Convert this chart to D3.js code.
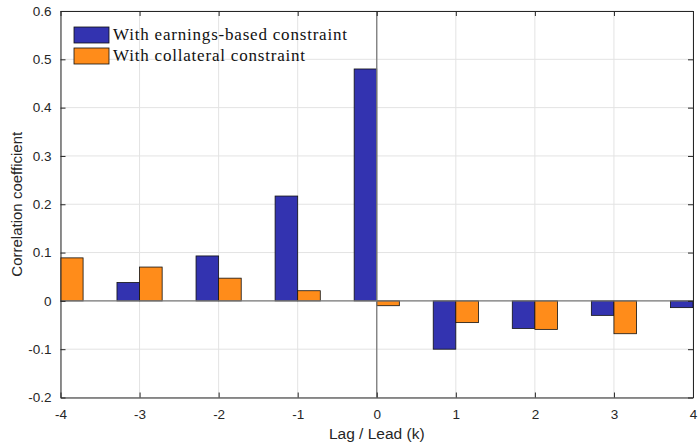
<!DOCTYPE html>
<html>
<head>
<meta charset="utf-8">
<script src="https://cdn.jsdelivr.net/npm/d3@7/dist/d3.min.js"></script>
<style>
  html, body { margin: 0; padding: 0; background: #fff; }
  svg { display: block; }
</style>
</head>
<body>
<svg id="chart" width="699" height="443"></svg>
<script>
// Lag/lead values of k
const lags = [-4, -3, -2, -1, 0, 1, 2, 3, 4];
// Correlation with earnings-based constraint (bar at k=-4 lies outside the axes)
const earningsValues = [null, 0.038, 0.093, 0.217, 0.48, -0.100, -0.057, -0.030, -0.014];
// Correlation with collateral constraint (bar at k=4 lies outside the axes)
const collateralValues = [0.089, 0.070, 0.047, 0.021, -0.010, -0.045, -0.059, -0.068, null];
const seriesNames = ["With earnings-based constraint", "With collateral constraint"];
const seriesColors = ["#3333b0", "#ff8c1a"];
const xTicks = [-4, -3, -2, -1, 0, 1, 2, 3, 4];
const yTicks = [-0.2, -0.1, 0, 0.1, 0.2, 0.3, 0.4, 0.5, 0.6];

const svg = d3.select("#chart");
const margin = { left: 60.5, right: 6, top: 11, bottom: 45.5 };
const W = 699, H = 443;
const x = d3.scaleLinear().domain([-4, 4]).range([margin.left, W - margin.right]);
const y = d3.scaleLinear().domain([-0.2, 0.6]).range([H - margin.bottom, margin.top]);

const axisColor = "#262626";
const tickFont = "'Liberation Sans', Arial, Helvetica, sans-serif";

svg.append("defs").append("clipPath").attr("id", "plotclip")
  .append("rect")
  .attr("x", x(-4)).attr("y", y(0.6))
  .attr("width", x(4) - x(-4)).attr("height", y(-0.2) - y(0.6));

// grid
const grid = svg.append("g");
grid.selectAll("line.gx").data(xTicks).join("line")
  .attr("x1", d => x(d)).attr("x2", d => x(d))
  .attr("y1", y(0.6)).attr("y2", y(-0.2))
  .attr("stroke", "#e3e3e3").attr("stroke-width", 1);
grid.selectAll("line.gy").data(yTicks).join("line")
  .attr("x1", x(-4)).attr("x2", x(4))
  .attr("y1", d => y(d)).attr("y2", d => y(d))
  .attr("stroke", "#e3e3e3").attr("stroke-width", 1);

// grouped bars: two bars per lag, each 2/7 of a unit wide
const groupWidth = 2 / 3.5;
const barW = groupWidth / 2;
const series = [earningsValues, collateralValues];
const bars = svg.append("g").attr("clip-path", "url(#plotclip)");
series.forEach((vals, si) => {
  const offset = (si - 0.5) * barW; // center offset of this series
  const data = lags.map((k, i) => ({ k, v: vals[i] })).filter(d => d.v !== null);
  bars.selectAll(null).data(data).join("rect")
    .attr("x", d => x(d.k + offset - barW / 2))
    .attr("width", d => x(d.k + offset + barW / 2) - x(d.k + offset - barW / 2))
    .attr("y", d => y(Math.max(0, d.v)))
    .attr("height", d => Math.abs(y(d.v) - y(0)))
    .attr("fill", seriesColors[si])
    .attr("stroke", "#111")
    .attr("stroke-width", 0.8);
});

// zero reference lines
svg.append("line")
  .attr("x1", x(-4)).attr("x2", x(4)).attr("y1", y(0)).attr("y2", y(0))
  .attr("stroke", "#7a7a7a").attr("stroke-width", 1.3);
svg.append("line")
  .attr("x1", x(0)).attr("x2", x(0)).attr("y1", y(0.6)).attr("y2", y(-0.2))
  .attr("stroke", "#7a7a7a").attr("stroke-width", 1.3);

// axes with inward ticks on all four sides; plain hyphen for negatives
const fmtX = d => String(d);
const fmtY = d => d === 0 ? "0" : d.toFixed(1);
const bottomAxis = svg.append("g").attr("transform", `translate(0,${y(-0.2)})`)
  .call(d3.axisBottom(x).tickValues(xTicks).tickFormat(fmtX).tickSizeInner(-5).tickSizeOuter(0).tickPadding(12));
const leftAxis = svg.append("g").attr("transform", `translate(${x(-4)},0)`)
  .call(d3.axisLeft(y).tickValues(yTicks).tickFormat(fmtY).tickSizeInner(-5).tickSizeOuter(0).tickPadding(9));
const topAxis = svg.append("g").attr("transform", `translate(0,${y(0.6)})`)
  .call(d3.axisTop(x).tickValues(xTicks).tickFormat("").tickSizeInner(-5).tickSizeOuter(0));
const rightAxis = svg.append("g").attr("transform", `translate(${x(4)},0)`)
  .call(d3.axisRight(y).tickValues(yTicks).tickFormat("").tickSizeInner(-5).tickSizeOuter(0));

[bottomAxis, leftAxis, topAxis, rightAxis].forEach(g => {
  g.select(".domain").attr("stroke", axisColor).attr("stroke-width", 1);
  g.selectAll(".tick line").attr("stroke", axisColor).attr("stroke-width", 1);
  g.selectAll(".tick text").attr("fill", axisColor)
    .style("font-family", tickFont).style("font-size", "13.5px");
});

// axis titles
svg.append("text")
  .attr("x", x(0)).attr("y", 439)
  .attr("text-anchor", "middle")
  .style("font-family", tickFont).style("font-size", "15.5px")
  .attr("fill", axisColor)
  .text("Lag / Lead (k)");
svg.append("text")
  .attr("transform", `translate(22,${y(0.2)}) rotate(-90)`)
  .attr("text-anchor", "middle")
  .style("font-family", tickFont).style("font-size", "15px")
  .attr("fill", axisColor)
  .text("Correlation coefficient");

// legend
const legend = svg.append("g").attr("transform", "translate(74,27)");
seriesNames.forEach((name, i) => {
  const row = legend.append("g").attr("transform", `translate(0,${i * 21})`);
  row.append("rect")
    .attr("width", 35).attr("height", 16)
    .attr("fill", seriesColors[i]).attr("stroke", "#111").attr("stroke-width", 0.8);
  row.append("text")
    .attr("x", 39).attr("y", 12.5)
    .style("font-family", "'Liberation Serif', 'DejaVu Serif', serif")
    .style("font-size", "17px")
    .style("letter-spacing", "0.8px")
    .attr("fill", "#111")
    .text(name);
});
</script>
</body>
</html>
